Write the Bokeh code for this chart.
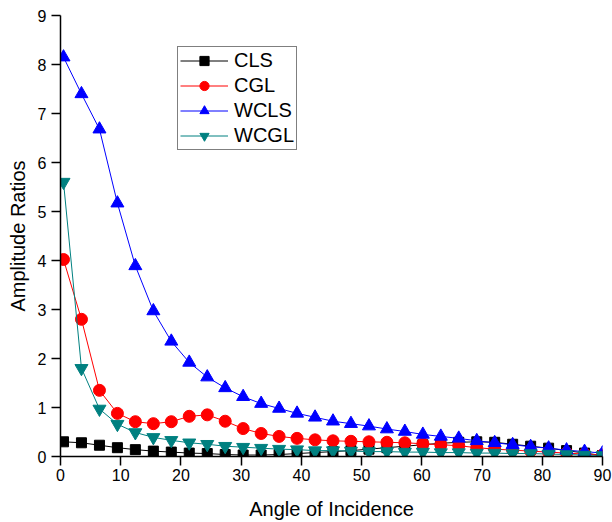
from bokeh.plotting import figure
from bokeh.models import Range1d, Legend, LegendItem, FixedTicker
from bokeh.embed import file_html
from bokeh.resources import INLINE

# Angle of incidence (degrees)
angles = [0.5, 3.48, 6.47, 9.45, 12.43, 15.42, 18.4, 21.38, 24.37, 27.35,
          30.33, 33.32, 36.3, 39.28, 42.27, 45.25, 48.23, 51.22, 54.2, 57.18,
          60.17, 63.15, 66.13, 69.12, 72.1, 75.08, 78.07, 81.05, 84.03, 87.02, 90.0]

# Amplitude ratios for each model
cls = [0.3, 0.28, 0.23, 0.18, 0.14, 0.11, 0.09, 0.07, 0.06, 0.04,
       0.03, 0.03, 0.04, 0.06, 0.08, 0.1, 0.12, 0.15, 0.18, 0.21,
       0.24, 0.27, 0.29, 0.3, 0.29, 0.25, 0.21, 0.17, 0.12, 0.07, 0.02]
cgl = [4.02, 2.8, 1.35, 0.88, 0.71, 0.67, 0.71, 0.82, 0.85, 0.72,
       0.57, 0.47, 0.41, 0.37, 0.34, 0.32, 0.31, 0.3, 0.29, 0.28,
       0.26, 0.24, 0.22, 0.18, 0.15, 0.13, 0.11, 0.09, 0.07, 0.05, 0.03]
wcls = [8.15, 7.4, 6.68, 5.17, 3.89, 2.97, 2.35, 1.92, 1.62, 1.4,
        1.22, 1.08, 0.98, 0.88, 0.8, 0.72, 0.67, 0.62, 0.56, 0.51,
        0.45, 0.41, 0.37, 0.32, 0.28, 0.24, 0.2, 0.17, 0.13, 0.1, 0.07]
wcgl = [5.6, 1.8, 0.97, 0.66, 0.49, 0.39, 0.33, 0.28, 0.25, 0.21,
        0.19, 0.17, 0.15, 0.14, 0.12, 0.12, 0.11, 0.1, 0.1, 0.09,
        0.09, 0.08, 0.08, 0.07, 0.07, 0.06, 0.06, 0.05, 0.04, 0.03, 0.02]

series_names = ["CLS", "CGL", "WCLS", "WCGL"]
x_ticks = [0, 10, 20, 30, 40, 50, 60, 70, 80, 90]
y_ticks = [0, 1, 2, 3, 4, 5, 6, 7, 8, 9]

FONT = "Liberation Sans"

p = figure(width=612, height=522, output_backend="svg", toolbar_location=None,
           x_range=Range1d(0, 90), y_range=Range1d(0, 9),
           min_border_left=60, min_border_right=10,
           min_border_top=15, min_border_bottom=65)
p.background_fill_color = "white"
p.border_fill_color = "white"
p.outline_line_color = None
p.xgrid.visible = False
p.ygrid.visible = False

for ax, ticks in ((p.xaxis, x_ticks), (p.yaxis, y_ticks)):
    ax.ticker = FixedTicker(ticks=ticks, minor_ticks=[])
    ax.axis_line_color = "black"
    ax.axis_line_width = 1.5
    ax.major_tick_line_color = "black"
    ax.major_tick_line_width = 1.5
    ax.major_tick_in = 0
    ax.major_tick_out = 9
    ax.minor_tick_line_color = None
    ax.major_label_text_font = FONT
    ax.major_label_text_font_size = "16px"
    ax.major_label_text_color = "black"
    ax.axis_label_text_font = FONT
    ax.axis_label_text_font_size = "20px"
    ax.axis_label_text_font_style = "normal"
    ax.axis_label_text_color = "black"

p.xaxis.major_label_standoff = 3
p.yaxis.major_label_standoff = 5
p.xaxis.axis_label_standoff = 14
p.yaxis.axis_label_standoff = 6

p.xaxis.axis_label = "Angle of Incidence"
p.yaxis.axis_label = "Amplitude Ratios"

styles = [
    (cls, "#000000", "square", 10),
    (cgl, "#FF0000", "circle", 12),
    (wcls, "#0000FF", "triangle", 13),
    (wcgl, "#008080", "inverted_triangle", 13),
]

items = []
for name, (vals, color, marker, size) in zip(series_names, styles):
    ln = p.line(angles, vals, line_color=color, line_width=1)
    pt = p.scatter(angles, vals, marker=marker, size=size,
                   fill_color=color, line_color=color)
    items.append(LegendItem(label=name, renderers=[ln, pt]))

legend = Legend(items=items, location=(117, 306))
legend.border_line_color = "black"
legend.border_line_width = 1
legend.background_fill_color = "white"
legend.background_fill_alpha = 1
legend.label_text_font = FONT
legend.label_text_font_size = "20px"
legend.label_text_color = "black"
legend.glyph_width = 48
legend.glyph_height = 23
legend.label_height = 23
legend.label_width = 60
legend.label_standoff = 6
legend.spacing = 2
legend.padding = 2
legend.margin = 0
p.add_layout(legend)

open("out.html", "w").write(file_html(p, INLINE))
